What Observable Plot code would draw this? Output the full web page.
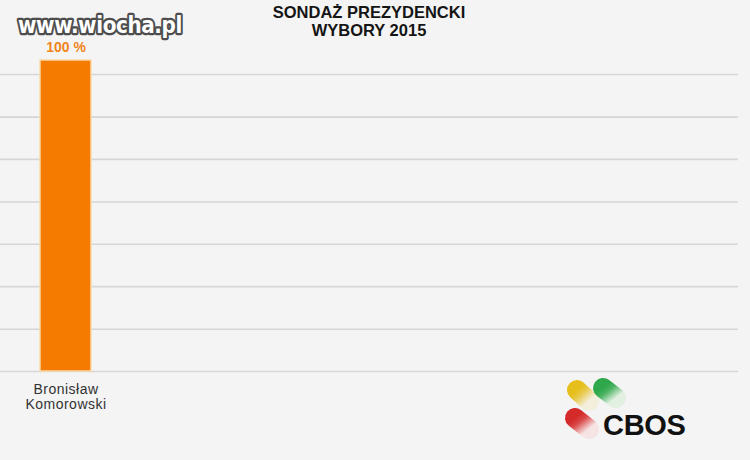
<!DOCTYPE html>
<html>
<head>
<meta charset="utf-8">
<script src="https://cdn.jsdelivr.net/npm/d3@7"></script>
<script src="https://cdn.jsdelivr.net/npm/@observablehq/plot@0.6"></script>
<style>
  html, body { margin: 0; padding: 0; background: #f4f4f4; }
  #wrap { position: relative; width: 750px; height: 460px; overflow: hidden; background: #f4f4f4; }
  #chart { position: absolute; left: 0; top: 0; }
  .title { position: absolute; left: 0; width: 738px; text-align: center; font-family: "Liberation Sans", Arial, sans-serif; font-weight: bold; color: #151515; font-size: 16.5px; line-height: 18px; }
  .logo { position: absolute; left: 555px; top: 370px; }
  #chart svg g[aria-label="x-axis tick label"] text { letter-spacing: 0.5px; }
</style>
</head>
<body>
<div id="wrap">
  <div id="chart"></div>
</div>
<script>
// ---- data ----
const candidates = ["Bronisław Komorowski"];
const support = [100];
const valueLabels = ["100 %"];
const gridValues = [0, 13.6, 27.3, 40.9, 54.5, 68.2, 81.8, 95.5];
const titleLines = ["SONDAŻ PREZYDENCKI", "WYBORY 2015"];
const watermark = "www.wiocha.pl";
const logoText = "CBOS";

const rows = candidates.map((c, i) => ({name: c, value: support[i], label: valueLabels[i]}));

const chart = Plot.plot({
  width: 750,
  height: 460,
  marginLeft: 0,
  marginRight: 12,
  marginTop: 60,
  marginBottom: 89,
  style: {background: "transparent", fontFamily: "Liberation Sans, Arial, sans-serif"},
  x: {domain: candidates, range: [40, 91], padding: 0, label: null},
  y: {domain: [0, 100], axis: null},
  marks: [
    Plot.ruleY(gridValues, {stroke: "#d6d6d6", strokeWidth: 1.6}),
    Plot.barY(rows, {x: "name", y: "value", fill: "#f57a00", stroke: "#fcd9a6", strokeWidth: 1.5}),
    Plot.text(rows, {x: "name", y: "value", text: "label", dy: -13, fill: "#f0841c", fontWeight: "bold", fontSize: 14}),
    Plot.axisX({tickSize: 0, tickPadding: 12, fontSize: 14, lineHeight: 1.08, fill: "#333", label: null,
      tickFormat: d => d.replace(" ", "\n")})
  ]
});
document.getElementById("chart").appendChild(chart);

const wrap = document.getElementById("wrap");
titleLines.forEach((t, i) => {
  const d = document.createElement("div");
  d.className = "title";
  d.style.top = (3 + i * 18) + "px";
  d.textContent = t;
  wrap.appendChild(d);
});

// watermark with outline
const wm = document.createElementNS("http://www.w3.org/2000/svg", "svg");
wm.setAttribute("width", 200); wm.setAttribute("height", 44);
wm.style.position = "absolute"; wm.style.left = "10px"; wm.style.top = "3px";
wm.innerHTML = `<text x="8" y="30" font-family="DejaVu Sans, sans-serif" font-weight="bold" font-size="20" letter-spacing="-0.4"
  transform="translate(0,-4) scale(1,1.13)"
  fill="#ffffff" stroke="#4d4d4d" stroke-width="4" stroke-linejoin="round" paint-order="stroke">${watermark}</text>`;
wrap.appendChild(wm);

// CBOS logo
const logo = document.createElementNS("http://www.w3.org/2000/svg", "svg");
logo.setAttribute("width", 150); logo.setAttribute("height", 75);
logo.setAttribute("class", "logo");
logo.innerHTML = `
<defs>
  <linearGradient id="gy" x1="0" y1="0" x2="1" y2="1"><stop offset="0" stop-color="#e6bf1c"/><stop offset="0.35" stop-color="#e8c84a"/><stop offset="1" stop-color="#f3efdc"/></linearGradient>
  <linearGradient id="gg" x1="0" y1="0" x2="1" y2="1"><stop offset="0" stop-color="#2ea84a"/><stop offset="0.35" stop-color="#4cb464"/><stop offset="1" stop-color="#e2f0e2"/></linearGradient>
  <linearGradient id="gr" x1="0" y1="0" x2="1" y2="1"><stop offset="0" stop-color="#d42a2a"/><stop offset="0.35" stop-color="#da4a4a"/><stop offset="1" stop-color="#f6e4e4"/></linearGradient>
</defs>
<line x1="22" y1="20" x2="34" y2="31" stroke="url(#gy)" stroke-width="20" stroke-linecap="round"/>
<line x1="48" y1="18" x2="61" y2="28" stroke="url(#gg)" stroke-width="20" stroke-linecap="round"/>
<line x1="20" y1="48" x2="34" y2="59" stroke="url(#gr)" stroke-width="20" stroke-linecap="round"/>
<text x="48" y="65" font-family="Liberation Sans, Arial, sans-serif" font-weight="bold" font-size="29" letter-spacing="-0.3" fill="#111">${logoText}</text>`;
wrap.appendChild(logo);
</script>
</body>
</html>
